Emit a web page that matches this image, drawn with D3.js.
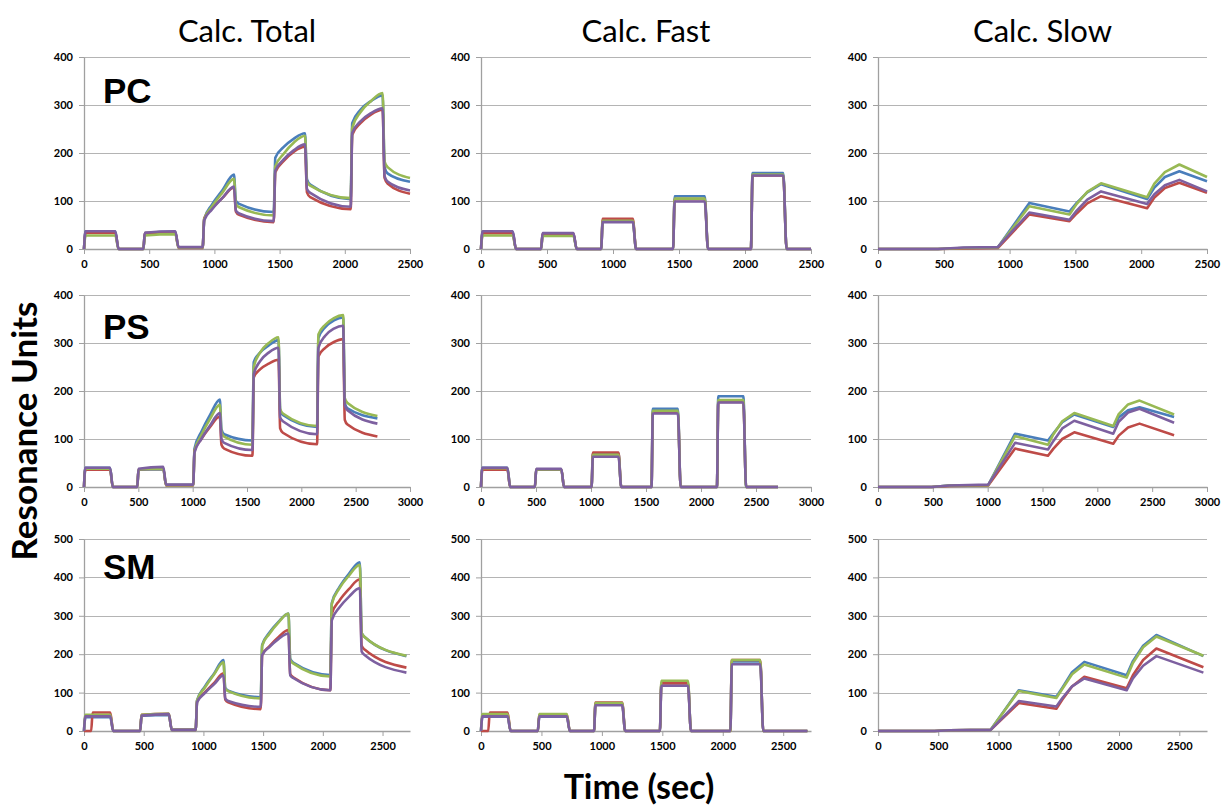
<!DOCTYPE html>
<html>
<head>
<meta charset="utf-8">
<script src="https://cdn.jsdelivr.net/npm/d3@7"></script>
<style>
  body { margin: 0; background: #fff; }
  text { font-family: Lato, "Open Sans", sans-serif; }
</style>
</head>
<body>
<div id="chart"></div>
<script>
// series order: blue, red, green, purple (Excel defaults)
var colors = ["#4a7ebb", "#be4b48", "#98b954", "#7d60a0"];
var colTitles = ["Calc. Total", "Calc. Fast", "Calc. Slow"];
var rowNames = ["PC", "PS", "SM"];
var xMaxes = [2500, 3000, 2730];
var yMaxes = [400, 400, 500];
var xTicksRows = [[0, 500, 1000, 1500, 2000, 2500],
                  [0, 500, 1000, 1500, 2000, 2500, 3000],
                  [0, 500, 1000, 1500, 2000, 2500]];

// ---- PC ----
var pcTotalT = [0, 12, 240, 265, 455, 467, 700, 725, 910, 922, 980, 1060, 1150, 1165, 1190, 1455, 1467, 1530, 1610, 1695, 1710, 1735, 2045, 2057, 2120, 2200, 2290, 2305, 2330, 2500];
var pcTotal = [
  [0, 37, 37, 0, 0, 33, 36, 3, 3, 62, 92, 122, 155, 100, 94, 77, 190, 212, 230, 241, 145, 134, 104, 262, 290, 308, 320, 170, 157, 140],
  [0, 34, 34, 0, 0, 33, 35, 2, 2, 64, 84, 106, 128, 78, 71, 56, 160, 183, 203, 213, 118, 108, 83, 238, 262, 280, 290, 148, 136, 115],
  [0, 28, 28, 0, 0, 28, 31, 3, 3, 62, 88, 117, 146, 94, 87, 70, 172, 198, 222, 236, 140, 132, 106, 252, 285, 308, 325, 182, 170, 148],
  [0, 37, 37, 0, 0, 34, 37, 4, 4, 60, 82, 106, 130, 80, 74, 58, 163, 186, 206, 218, 125, 117, 88, 242, 266, 283, 293, 152, 140, 122]
];
var pcFastT = [0, 12, 240, 265, 455, 467, 700, 725, 910, 922, 1150, 1175, 1455, 1467, 1695, 1720, 2045, 2057, 2290, 2315, 2500];
var pcFast = [
  [0, 36, 36, 0, 0, 31, 31, 0, 0, 58, 58, 0, 0, 110, 110, 0, 0, 158, 158, 0, 0],
  [0, 33, 33, 0, 0, 32, 32, 0, 0, 63, 63, 0, 0, 104, 104, 0, 0, 153, 153, 0, 0],
  [0, 28, 28, 0, 0, 27, 27, 0, 0, 59, 59, 0, 0, 105, 105, 0, 0, 155, 155, 0, 0],
  [0, 37, 37, 0, 0, 33, 33, 0, 0, 56, 56, 0, 0, 99, 99, 0, 0, 153, 153, 0, 0]
];
var pcSlowT = [0, 455, 650, 910, 1150, 1455, 1510, 1590, 1695, 2045, 2100, 2180, 2290, 2500];
var pcSlow = [
  [0, 0, 2, 3, 96, 78, 96, 118, 135, 104, 128, 150, 162, 141],
  [0, 0, 1, 2, 72, 58, 74, 95, 110, 85, 107, 127, 138, 117],
  [0, 0, 2, 3, 89, 72, 94, 119, 137, 108, 136, 160, 176, 150],
  [0, 0, 3, 4, 76, 61, 80, 103, 120, 94, 114, 133, 144, 120]
];

// ---- PS ----
var psTotalT = [0, 12, 240, 265, 490, 502, 730, 755, 1005, 1017, 1080, 1160, 1250, 1265, 1290, 1550, 1562, 1620, 1700, 1790, 1805, 1830, 2145, 2157, 2220, 2300, 2385, 2400, 2425, 2700];
var psTotal = [
  [0, 40, 40, 0, 0, 36, 37, 4, 4, 80, 115, 150, 182, 120, 110, 97, 260, 280, 295, 306, 160, 150, 125, 310, 333, 347, 353, 175, 164, 143],
  [0, 36, 36, 0, 0, 37, 38, 3, 3, 76, 100, 125, 147, 88, 80, 65, 228, 245, 257, 265, 122, 113, 89, 272, 290, 302, 308, 140, 130, 105],
  [0, 38, 38, 0, 0, 37, 38, 4, 4, 74, 108, 142, 171, 114, 105, 88, 250, 280, 300, 312, 163, 153, 127, 318, 338, 352, 358, 185, 175, 148],
  [0, 40, 40, 0, 0, 38, 42, 5, 5, 72, 100, 128, 154, 100, 92, 77, 235, 262, 280, 290, 145, 137, 110, 290, 315, 330, 336, 170, 160, 132]
];
var psFastT = [0, 12, 240, 265, 490, 502, 730, 755, 1005, 1017, 1250, 1275, 1550, 1562, 1790, 1815, 2145, 2157, 2385, 2410, 2700];
var psFast = [
  [0, 40, 40, 0, 0, 36, 36, 0, 0, 70, 70, 0, 0, 163, 163, 0, 0, 189, 189, 0, 0],
  [0, 36, 36, 0, 0, 37, 37, 0, 0, 72, 72, 0, 0, 155, 155, 0, 0, 177, 177, 0, 0],
  [0, 39, 39, 0, 0, 37, 37, 0, 0, 67, 67, 0, 0, 159, 159, 0, 0, 181, 181, 0, 0],
  [0, 40, 40, 0, 0, 38, 38, 0, 0, 63, 63, 0, 0, 153, 153, 0, 0, 176, 176, 0, 0]
];
var psSlowT = [0, 490, 650, 1005, 1250, 1550, 1600, 1680, 1790, 2145, 2195, 2280, 2385, 2700];
var psSlow = [
  [0, 0, 3, 4, 111, 97, 112, 135, 151, 125, 145, 160, 166, 146],
  [0, 0, 2, 3, 80, 65, 80, 100, 114, 90, 107, 124, 132, 108],
  [0, 0, 3, 4, 106, 88, 110, 137, 154, 127, 152, 172, 180, 151],
  [0, 0, 3, 5, 92, 78, 96, 122, 138, 111, 136, 155, 163, 134]
];

// ---- SM ----
var smTotalT = [0, 12, 60, 72, 220, 245, 470, 482, 710, 735, 935, 947, 1010, 1090, 1168, 1183, 1208, 1480, 1492, 1550, 1630, 1712, 1727, 1752, 2063, 2075, 2140, 2220, 2310, 2325, 2350, 2700];
var smTotal = [
  [0, 36, 36, 36, 36, 0, 0, 40, 42, 3, 3, 80, 115, 150, 185, 112, 105, 88, 224, 255, 285, 306, 188, 178, 146, 333, 375, 410, 439, 255, 245, 195],
  [0, 0, 0, 48, 48, 0, 0, 42, 45, 3, 3, 78, 100, 125, 150, 82, 75, 57, 198, 220, 245, 263, 148, 140, 106, 305, 340, 370, 395, 222, 212, 165],
  [0, 42, 42, 42, 42, 0, 0, 42, 45, 3, 3, 80, 112, 148, 179, 110, 104, 85, 222, 252, 283, 306, 185, 176, 142, 330, 372, 405, 433, 255, 245, 196],
  [0, 38, 38, 38, 38, 0, 0, 40, 44, 3, 3, 75, 98, 122, 145, 85, 78, 63, 198, 218, 240, 254, 145, 138, 106, 288, 322, 350, 372, 207, 198, 152]
];
var smFastT = [0, 12, 60, 72, 220, 245, 470, 482, 710, 735, 935, 947, 1168, 1193, 1480, 1492, 1712, 1737, 2063, 2075, 2310, 2335, 2700];
var smFast = [
  [0, 37, 37, 37, 37, 0, 0, 37, 37, 0, 0, 70, 70, 0, 0, 125, 125, 0, 0, 181, 181, 0, 0],
  [0, 0, 0, 48, 48, 0, 0, 42, 42, 0, 0, 74, 74, 0, 0, 124, 124, 0, 0, 185, 185, 0, 0],
  [0, 44, 44, 44, 44, 0, 0, 44, 44, 0, 0, 73, 73, 0, 0, 131, 131, 0, 0, 185, 185, 0, 0],
  [0, 38, 38, 38, 38, 0, 0, 38, 38, 0, 0, 67, 67, 0, 0, 118, 118, 0, 0, 174, 174, 0, 0]
];
var smSlowT = [0, 470, 600, 935, 1168, 1480, 1530, 1610, 1712, 2063, 2115, 2200, 2310, 2700];
var smSlow = [
  [0, 0, 2, 3, 106, 89, 113, 153, 180, 145, 182, 222, 250, 195],
  [0, 0, 2, 3, 73, 58, 82, 116, 141, 111, 145, 185, 215, 166],
  [0, 0, 2, 3, 104, 86, 110, 148, 173, 139, 177, 218, 246, 196],
  [0, 0, 2, 3, 78, 64, 86, 116, 137, 106, 137, 170, 195, 152]
];

var panels = [
  [[pcTotalT, pcTotal], [pcFastT, pcFast], [pcSlowT, pcSlow]],
  [[psTotalT, psTotal], [psFastT, psFast], [psSlowT, psSlow]],
  [[smTotalT, smTotal], [smFastT, smFast], [smSlowT, smSlow]]
];

// layout
var width = 1225, height = 809;
var colX = [[84, 410], [481, 811], [878, 1207]];
var rowY = [[57, 249], [295, 487], [539, 731]];
var rowLabelY = [103, 339, 579];

var svg = d3.select("#chart").append("svg")
  .attr("width", width)
  .attr("height", height);

function drawPanel(row, col) {
  var times = panels[row][col][0];
  var values = panels[row][col][1];

  var x = d3.scaleLinear().domain([0, xMaxes[row]]).range(colX[col]);
  var y = d3.scaleLinear().domain([0, yMaxes[row]]).range([rowY[row][1], rowY[row][0]]);
  var yTicks = d3.range(0, yMaxes[row] + 1, 100);

  var g = svg.append("g");

  // gridlines
  g.selectAll(".grid")
    .data(yTicks.slice(1))
    .enter().append("line")
    .attr("x1", colX[col][0])
    .attr("x2", colX[col][1])
    .attr("y1", function(d) { return Math.round(y(d)) + 0.5; })
    .attr("y2", function(d) { return Math.round(y(d)) + 0.5; })
    .attr("stroke", "#b4b4b4")
    .attr("stroke-width", 1);

  var yAxis = g.append("g")
    .attr("transform", "translate(" + colX[col][0] + ",0)")
    .call(d3.axisLeft(y).tickValues(yTicks).tickFormat(d3.format("d"))
      .tickSize(5).tickSizeOuter(0).tickPadding(6));

  var xAxis = g.append("g")
    .attr("transform", "translate(0," + rowY[row][1] + ")")
    .call(d3.axisBottom(x).tickValues(xTicksRows[row]).tickFormat(d3.format("d"))
      .tickSize(5).tickSizeOuter(0).tickPadding(6));

  [yAxis, xAxis].forEach(function(a) {
    a.select(".domain").attr("stroke", "#a0a0a0").attr("stroke-width", 1.3);
    a.selectAll(".tick line").attr("stroke", "#a0a0a0");
    a.selectAll(".tick text")
      .attr("fill", "#000")
      .style("font-family", "Lato, sans-serif")
      .style("font-weight", "700")
      .style("font-size", "11px");
  });

  var line = d3.line()
    .x(function(d, i) { return x(times[i]); })
    .y(function(d) { return y(d); })
    .curve(col === 2 ? d3.curveLinear : d3.curveMonotoneX);

  g.selectAll(".series")
    .data(values)
    .enter().append("path")
    .attr("d", line)
    .attr("fill", "none")
    .attr("stroke", function(d, i) { return colors[i]; })
    .attr("stroke-width", 2.6)
    .attr("stroke-linejoin", "round");
}

for (var r = 0; r < 3; r++) {
  for (var c = 0; c < 3; c++) {
    drawPanel(r, c);
  }
}

// column titles
svg.selectAll(".coltitle")
  .data(colTitles)
  .enter().append("text")
  .attr("x", function(d, i) { return (colX[i][0] + colX[i][1]) / 2; })
  .attr("y", 42)
  .attr("text-anchor", "middle")
  .style("font-size", "31px")
  .text(function(d) { return d; });

// row labels
svg.selectAll(".rowlabel")
  .data(rowNames)
  .enter().append("text")
  .attr("x", 103)
  .attr("y", function(d, i) { return rowLabelY[i]; })
  .style("font-family", "'Liberation Sans', Arial, sans-serif")
  .style("font-weight", "700")
  .style("font-size", "35px")
  .text(function(d) { return d; });

// axis titles
svg.append("text")
  .attr("x", 639)
  .attr("y", 799)
  .attr("text-anchor", "middle")
  .style("font-weight", "700")
  .style("font-size", "34px")
  .text("Time (sec)");

svg.append("text")
  .attr("transform", "translate(37,431) rotate(-90)")
  .attr("text-anchor", "middle")
  .style("font-weight", "700")
  .style("font-size", "35px")
  .text("Resonance Units");
</script>
</body>
</html>
